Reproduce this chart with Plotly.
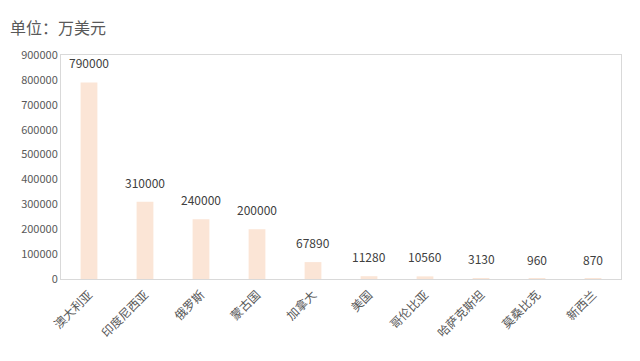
import plotly.graph_objects as go

categories = ["澳大利亚", "印度尼西亚", "俄罗斯", "蒙古国", "加拿大", "美国", "哥伦比亚", "哈萨克斯坦", "莫桑比克", "新西兰"]
values = [790000, 310000, 240000, 200000, 67890, 11280, 10560, 3130, 960, 870]
y_ticks = [0, 100000, 200000, 300000, 400000, 500000, 600000, 700000, 800000, 900000]

FONT = "Noto Sans CJK SC, Noto Sans, sans-serif"

fig = go.Figure()
fig.add_trace(go.Bar(x=categories, y=values, marker=dict(color="#FBE5D6", line=dict(width=0)), width=0.3))

for c, v in zip(categories, values):
    fig.add_annotation(x=c, y=v, text=str(v), showarrow=False, yanchor="bottom", yshift=9,
                       font=dict(size=12, color="#404040", family=FONT))

fig.add_annotation(xref="paper", yref="paper", x=-53/560, y=1 + 28/224, xanchor="left", yanchor="middle",
                   text="单位：万美元", showarrow=False, font=dict(size=16, color="#595959", family=FONT))

fig.update_layout(
    width=640, height=361,
    margin=dict(l=53, r=27, t=47, b=90),
    paper_bgcolor="white", plot_bgcolor="white",
    showlegend=False,
    font=dict(family=FONT, color="#595959", size=12),
    bargap=0.7,
)
fig.update_xaxes(showline=True, mirror=True, linecolor="#D9D9D9", linewidth=1, tickangle=-45,
                 tickfont=dict(size=12, color="#595959"), showgrid=False, ticks="", automargin=False,
                 ticklabelstandoff=3)
fig.update_yaxes(range=[0, 900000], tickvals=y_ticks, ticktext=[str(t) for t in y_ticks],
                 showline=True, mirror=True, linecolor="#D9D9D9", linewidth=1, showgrid=False,
                 zeroline=False, tickfont=dict(size=11, color="#595959"), ticks="", automargin=False)

fig.write_html("out.html")
